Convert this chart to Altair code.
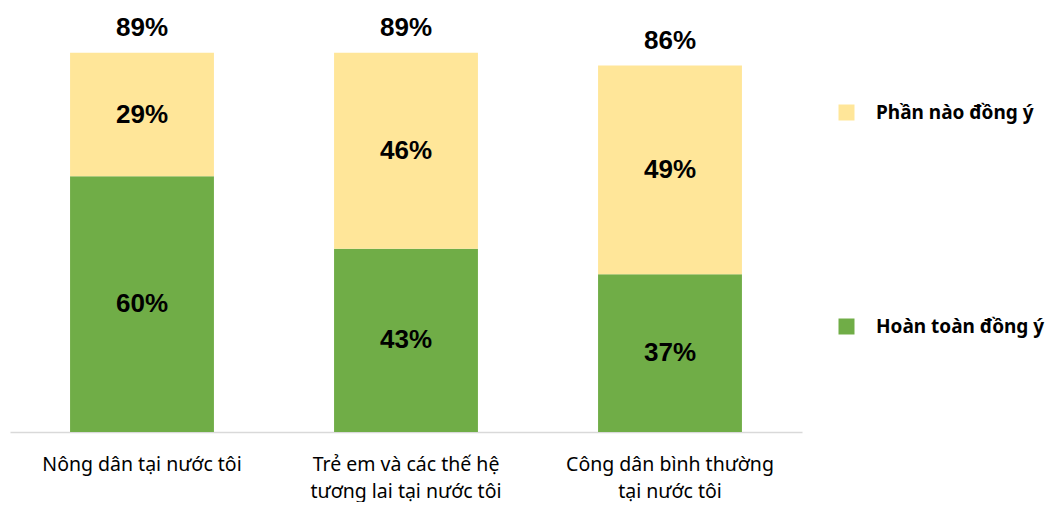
import altair as alt
import pandas as pd

categories = ["Nông dân tại nước tôi",
              "Trẻ em và các thế hệ tương lai tại nước tôi",
              "Công dân bình thường tại nước tôi"]
label_lines = [["Nông dân tại nước tôi"],
               ["Trẻ em và các thế hệ", "tương lai tại nước tôi"],
               ["Công dân bình thường", "tại nước tôi"]]
series = ["Hoàn toàn đồng ý", "Phần nào đồng ý"]
hoan_toan = [60, 43, 37]
phan_nao = [29, 46, 49]
totals = [89, 89, 86]

colors = {"Phần nào đồng ý": "#FFE699", "Hoàn toàn đồng ý": "#70AD47"}

rows = []
for i, c in enumerate(categories):
    base = 0
    for j, (s, v) in enumerate(zip(series, [hoan_toan[i], phan_nao[i]])):
        rows.append({"cat": c, "series": s, "val": v, "ord": j,
                     "y0": base, "y1": base + v, "mid": base + v / 2,
                     "lbl": f"{v}%"})
        base += v
df = pd.DataFrame(rows)
tot = pd.DataFrame({"cat": categories, "total": totals,
                    "lbl": [f"{t}%" for t in totals]})

label_map = {c: l for c, l in zip(categories, label_lines)}
label_expr = "{" + ",".join(
    f"'{c}': [" + ",".join(f"'{x}'" for x in l) + "]" for c, l in label_map.items()
) + "}[datum.label]"

ydom = [0, 99.5]
xenc = alt.X("cat:N", sort=categories, title=None,
             scale=alt.Scale(paddingInner=0.455, paddingOuter=0.2275),
             axis=alt.Axis(labelAngle=0, ticks=False, domainColor="#D9D9D9",
                           domainWidth=1.5, labelFont="Noto Sans",
                           labelFontSize=19.5, labelColor="#000000",
                           labelPadding=32, labelLineHeight=27, labelLimit=0,
                           labelExpr=label_expr, labelBaseline="middle"))

bars = alt.Chart(df).mark_bar().encode(
    x=xenc,
    y=alt.Y("y0:Q", scale=alt.Scale(domain=ydom), axis=None, title=None),
    y2="y1:Q",
    color=alt.Color("series:N",
                    scale=alt.Scale(domain=list(colors.keys()),
                                    range=list(colors.values())),
                    legend=alt.Legend(title=None, orient="none", legendX=827,
                                      legendY=95, symbolType="square",
                                      symbolSize=256, symbolStrokeWidth=0,
                                      labelFont="Noto Sans", labelFontSize=19,
                                      labelFontWeight="bold", labelColor="#000000",
                                      labelOffset=20, rowPadding=194,
                                      labelLimit=0)),
)

seg_text = alt.Chart(df).mark_text(font="Liberation Sans", fontWeight="bold",
                                   fontSize=26, color="#000000",
                                   baseline="middle").encode(
    x=alt.X("cat:N", sort=categories),
    y=alt.Y("mid:Q", scale=alt.Scale(domain=ydom)),
    text="lbl:N",
)

tot_text = alt.Chart(tot).mark_text(font="Liberation Sans", fontWeight="bold",
                                    fontSize=26, color="#000000",
                                    baseline="middle", dy=-25).encode(
    x=alt.X("cat:N", sort=categories),
    y=alt.Y("total:Q", scale=alt.Scale(domain=ydom)),
    text="lbl:N",
)

chart = alt.layer(bars, seg_text, tot_text).properties(
    width=792, height=424,
    autosize=alt.AutoSizeParams(type="none"),
    padding={"left": 2, "top": 0, "right": 247, "bottom": 70},
).configure_view(stroke=None)

chart.save("out.html", embed_options={"renderer": "svg", "actions": False})
